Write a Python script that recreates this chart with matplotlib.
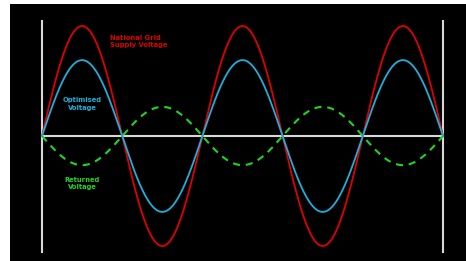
import matplotlib
matplotlib.use("Agg")
import matplotlib.pyplot as plt
import numpy as np

# waves (amplitude relative to the supply peak)
cycles = 2.5
supply_amp = 1.0
optimised_amp = 0.69
returned_amp = -0.265

labels = ["National Grid\nSupply Voltage", "Optimised\nVoltage", "Returned\nVoltage"]
label_pos = [(0.425, 0.86), (0.25, 0.29), (0.25, -0.43)]
label_align = ["left", "center", "center"]
colors = ["#e00000", "#1cb0dc", "#1fd61f"]

fig = plt.figure(figsize=(4.66, 2.61), dpi=100)
fig.patch.set_facecolor("white")
ax = fig.add_axes([10 / 466, 0, 456 / 466, 257 / 261])
ax.set_facecolor("black")

px = 160.4  # pixels per cycle
ax.set_xlim((10 - 42) / px, (466 - 42) / px)
ax.set_ylim((136 - 261) / 110, (136 - 4) / 110)
ax.axis("off")
ax.add_patch(plt.Rectangle((0, 0), 1, 1, transform=ax.transAxes, color="black", zorder=0))

t = np.linspace(0, cycles, 800)
wave = np.sin(2 * np.pi * t)

line_col = "#d8d8d8"
ax.plot([0, 0], [-1.055, 1.045], color=line_col, lw=1.5, zorder=1)
ax.plot([cycles, cycles], [-1.055, 1.045], color=line_col, lw=1.5, zorder=1)
ax.plot([0, cycles], [0, 0], color=line_col, lw=1.5, zorder=1)

ax.plot(t, supply_amp * wave, color=colors[0], lw=1.3, zorder=3)
ax.plot(t, optimised_amp * wave, color=colors[1], lw=1.3, zorder=3)
ax.plot(t, returned_amp * wave, color=colors[2], lw=1.5, ls=(0, (3.4, 2.8)), zorder=2)

for text, (x, y), ha, c in zip(labels, label_pos, label_align, colors):
    ax.text(x, y, text, color=c, fontsize=5.4, fontweight="bold", ha=ha, va="center",
            family="DejaVu Sans", stretch="condensed", linespacing=1.25)

fig.savefig("out.png", dpi=100, facecolor=fig.get_facecolor())
